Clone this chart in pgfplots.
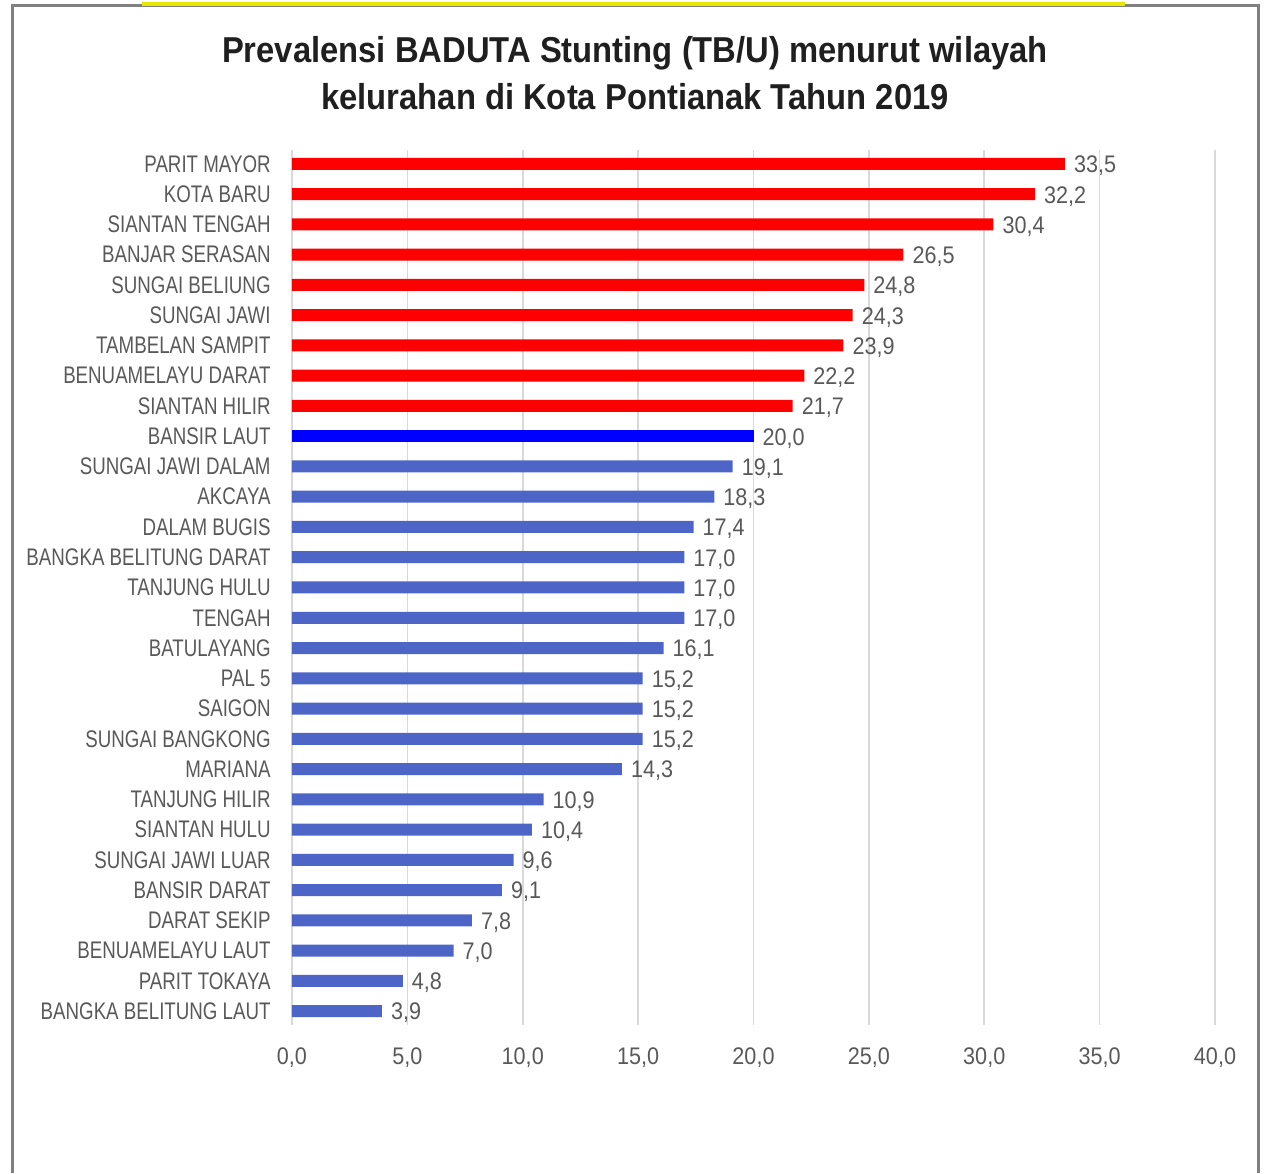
\documentclass[border=0pt]{standalone}
\usepackage{fontspec}
\usepackage{pgfplots}
\pgfplotsset{compat=1.18}
\setmainfont{Liberation Sans}
\newfontfamily\catfont[FakeStretch=0.78]{Liberation Sans}
\newfontfamily\numfont[FakeStretch=0.9]{Liberation Sans}
\newfontfamily\titlefont[FakeStretch=0.91]{Liberation Sans}

\definecolor{redbar}{RGB}{255,0,0}
\definecolor{bluebar}{RGB}{0,0,255}
\definecolor{lightbar}{RGB}{78,101,200}
\definecolor{labelgray}{RGB}{89,89,89}
\definecolor{gridgray}{RGB}{217,217,217}
\definecolor{framegray}{RGB}{128,128,128}
\definecolor{topyellow}{RGB}{230,230,0}

\begin{document}
\begin{tikzpicture}
\path[use as bounding box] (0,0) rectangle (632pt,586.5pt);
\draw[framegray, line width=1.5pt] (6pt,0) -- (6pt,583.5pt) -- (629pt,583.5pt) -- (629pt,0);
\draw[topyellow, line width=2pt] (71pt,584.5pt) -- (562.5pt,584.5pt);
\node[align=center, text=black!88, font=\titlefont\bfseries\fontsize{18}{23.5}\selectfont]
  at (317.5pt,549.75pt)
  {Prevalensi BADUTA Stunting (TB/U) menurut wilayah\\kelurahan di Kota Pontianak Tahun 2019};

\begin{axis}[
  at={(146pt,74pt)},
  anchor=south west,
  scale only axis,
  width=461.5pt,
  height=437.5pt,
  xmin=0, xmax=40,
  ymin=0.54, ymax=29.46,
  xtick={0,5,...,40},
  ytick={1,...,29},
  yticklabels={BANGKA BELITUNG LAUT,PARIT TOKAYA,BENUAMELAYU LAUT,DARAT SEKIP,BANSIR DARAT,SUNGAI JAWI LUAR,SIANTAN HULU,TANJUNG HILIR,MARIANA,SUNGAI BANGKONG,SAIGON,PAL 5,BATULAYANG,TENGAH,TANJUNG HULU,BANGKA BELITUNG DARAT,DALAM BUGIS,AKCAYA,SUNGAI JAWI DALAM,BANSIR LAUT,SIANTAN HILIR,BENUAMELAYU DARAT,TAMBELAN SAMPIT,SUNGAI JAWI,SUNGAI BELIUNG,BANJAR SERASAN,SIANTAN TENGAH,KOTA BARU,PARIT MAYOR},
  /pgf/number format/assume math mode=true,
  xticklabel={\pgfmathprintnumber[fixed,fixed zerofill,precision=1,use comma]{\tick}},
  xmajorgrids=true,
  grid style={gridgray, line width=0.8pt},
  axis line style={draw=none},
  major tick length=0pt,
  xticklabel style={font=\numfont\fontsize{12}{14}\selectfont, text=labelgray, inner sep=0pt, yshift=-11pt},
  yticklabel style={font=\catfont\fontsize{12}{14}\selectfont, text=labelgray, inner sep=0pt, xshift=-10.5pt},
  clip=false,
  point meta=x,
  nodes near coords={\pgfmathprintnumber[fixed,fixed zerofill,precision=1,use comma]{\pgfplotspointmeta}},
  every node near coord/.append style={font=\numfont\fontsize{12}{14}\selectfont, text=labelgray, anchor=west, xshift=1pt, yshift=-1pt},
]
\addplot[xbar, bar width=6pt, bar shift=0pt, fill=redbar, draw=none] coordinates {
  (21.7,21) (22.2,22) (23.9,23) (24.3,24) (24.8,25) (26.5,26) (30.4,27) (32.2,28) (33.5,29)};
\addplot[xbar, bar width=6pt, bar shift=0pt, fill=bluebar, draw=none] coordinates {
  (20.0,20)};
\addplot[xbar, bar width=6pt, bar shift=0pt, fill=lightbar, draw=none] coordinates {
  (3.9,1) (4.8,2) (7.0,3) (7.8,4) (9.1,5) (9.6,6) (10.4,7) (10.9,8) (14.3,9) (15.2,10)
  (15.2,11) (15.2,12) (16.1,13) (17.0,14) (17.0,15) (17.0,16) (17.4,17) (18.3,18) (19.1,19)};
\end{axis}
\end{tikzpicture}
\end{document}
